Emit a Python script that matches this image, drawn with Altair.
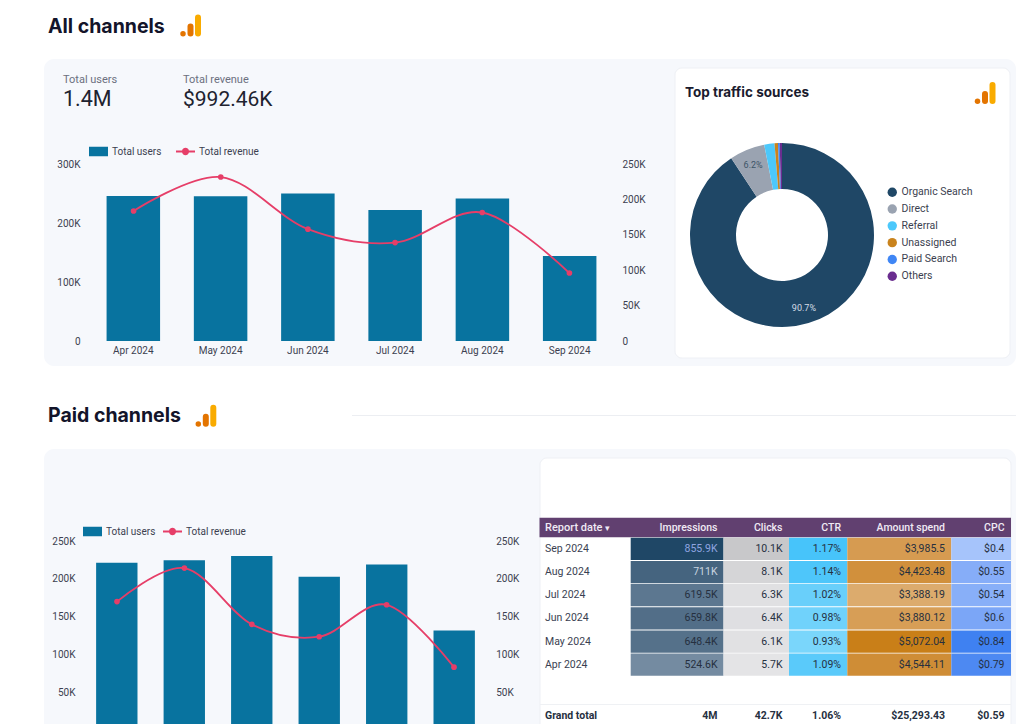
import altair as alt
import pandas as pd

MONTHS = ["Apr 2024", "May 2024", "Jun 2024", "Jul 2024", "Aug 2024", "Sep 2024"]
ALL_USERS = [245800, 245500, 250000, 222000, 241500, 144000]
ALL_REVENUE = [183600, 231600, 158000, 139000, 181500, 96000]
PAID_USERS = [221500, 224700, 230400, 203000, 219300, 131800]
PAID_REVENUE = [170000, 214500, 139800, 123400, 165800, 83000]

SOURCES = ["Organic Search", "Direct", "Referral", "Unassigned", "Paid Search", "Others"]
SHARES = [90.7, 6.2, 1.8, 0.6, 0.3, 0.4]
SHARE_LABELS = ["90.7%", "6.2%", "", "", "", ""]
SOURCE_COLORS = ["#1f4766", "#9aa3b1", "#4cc8fb", "#c9831d", "#3f86f5", "#6a2d8f"]

ROWS = ["Sep 2024", "Aug 2024", "Jul 2024", "Jun 2024", "May 2024", "Apr 2024"]
IMPRESSIONS = [855.9, 711.0, 619.5, 659.8, 648.4, 524.6]
IMPRESSIONS_TXT = ["855.9K", "711K", "619.5K", "659.8K", "648.4K", "524.6K"]
CLICKS = [10.1, 8.1, 6.3, 6.4, 6.1, 5.7]
CLICKS_TXT = ["10.1K", "8.1K", "6.3K", "6.4K", "6.1K", "5.7K"]
CTR = [1.17, 1.14, 1.02, 0.98, 0.93, 1.09]
CTR_TXT = ["1.17%", "1.14%", "1.02%", "0.98%", "0.93%", "1.09%"]
SPEND = [3985.5, 4423.48, 3388.19, 3880.12, 5072.04, 4544.11]
SPEND_TXT = ["$3,985.5", "$4,423.48", "$3,388.19", "$3,880.12", "$5,072.04", "$4,544.11"]
CPC = [0.4, 0.55, 0.54, 0.6, 0.84, 0.79]
CPC_TXT = ["$0.4", "$0.55", "$0.54", "$0.6", "$0.84", "$0.79"]
TOTALS = ["4M", "42.7K", "1.06%", "$25,293.43", "$0.59"]
HEADERS = ["Impressions", "Clicks", "CTR", "Amount spend", "CPC"]

W, H = 1008, 716
OFF = 8
BLUE, RED = "#08739f", "#e63e68"
TICK = "#3c3f50"
FONT = "Roboto"
one = alt.Data(values=[{"a": 1}])
layers = []


def X(v):
    return alt.value(v - OFF)


def box(x0, y0, x1, y1, fill, radius=0, stroke=None):
    kw = {"stroke": stroke, "strokeWidth": 1} if stroke else {}
    layers.append(
        alt.Chart(one)
        .mark_rect(fill=fill, cornerRadius=radius, **kw)
        .encode(x=X(x0), x2=X(x1), y=X(y0), y2=X(y1))
    )


def label(s, x, y, size=11, color="#2b2d3a", weight=400, align="left", font=FONT):
    layers.append(
        alt.Chart(one)
        .mark_text(font=font, fontSize=size, color=color, fontWeight=weight, align=align, baseline="middle")
        .encode(x=X(x), y=X(y), text=alt.value(s))
    )


def logo(x0, bottom):
    layers.append(alt.Chart(one).mark_point(filled=True, size=30, color="#e37400", opacity=1)
                  .encode(x=X(x0), y=X(bottom - 2.8)))
    for dx, h, c in ((7.5, 13, "#e37400"), (15, 22, "#f9ab00")):
        layers.append(alt.Chart(one).mark_rule(strokeWidth=6, strokeCap="round", color=c)
                      .encode(x=X(x0 + dx), y=X(bottom - h + 3), y2=X(bottom - 3)))


def combo(users, revenue, x_range, y_zero, y_top, left_max, left_ticks, right_ticks, right_max,
          lx, rx, leg_x, leg_y, leg_gap, show_x):
    df = pd.DataFrame({"month": MONTHS, "users": users, "revenue": revenue,
                       "u": ["Total users"] * 6, "r": ["Total revenue"] * 6})
    xs = alt.Scale(domain=MONTHS, range=[x_range[0] - OFF, x_range[1] - OFF], paddingInner=0.387, paddingOuter=0.19)
    ys_l = alt.Scale(domain=[0, left_max], range=[y_zero - OFF, y_top - OFF], nice=False)
    ys_r = alt.Scale(domain=[0, right_max], range=[y_zero - OFF, y_top - OFF], nice=False)
    fmt = "datum.value === 0 ? '0' : (datum.value / 1000) + 'K'"
    common = dict(title=None, grid=False, domain=False, ticks=False, labelFont=FONT, labelFontSize=10,
                  labelColor=TICK, labelExpr=fmt, zindex=1)
    x_axis = (alt.Axis(orient="bottom", offset=y_zero - OFF - H, title=None, grid=False, domain=False, ticks=False,
                       labelFont=FONT, labelFontSize=10, labelColor=TICK, labelPadding=4, labelAngle=0, zindex=1)
              if show_x else None)
    rect_path = "M-1,-0.5H1V0.5H-1Z"
    line_path = ("M-1,-0.1H-0.36A0.37,0.37 0 0 1 0.36,-0.1H1V0.1H0.36A0.37,0.37 0 0 1 -0.36,0.1H-1Z")
    leg = dict(title=None, orient="none", labelFont=FONT, labelFontSize=10, labelColor=TICK, padding=0,
               symbolSize=361, symbolStrokeWidth=0, labelOffset=4)
    layers.append(
        alt.Chart(df).mark_bar(clip=False).encode(
            x=alt.X("month:N", scale=xs, sort=None, axis=x_axis),
            y=alt.Y("users:Q", scale=ys_l,
                    axis=alt.Axis(orient="left", offset=-(lx - OFF), values=left_ticks, labelPadding=0, **common)),
            color=alt.Color("u:N", scale=alt.Scale(domain=["Total users"], range=[BLUE]),
                            legend=alt.Legend(legendX=leg_x - OFF, legendY=leg_y - OFF, symbolType=rect_path,
                                              symbolFillColor=BLUE, **leg)),
        )
    )
    layers.append(
        alt.Chart(df).mark_line(interpolate="cardinal", strokeWidth=1.8).encode(
            x=alt.X("month:N", scale=xs, sort=None, axis=None),
            y=alt.Y("revenue:Q", scale=ys_r,
                    axis=alt.Axis(orient="right", offset=rx - OFF - W, values=right_ticks, labelPadding=0, **common)),
            color=alt.Color("r:N", scale=alt.Scale(domain=["Total revenue"], range=[RED]),
                            legend=alt.Legend(legendX=leg_x + leg_gap - OFF, legendY=leg_y - OFF, symbolType=line_path,
                                              symbolFillColor=RED, **leg)),
        )
    )
    layers.append(
        alt.Chart(df).mark_point(filled=True, size=32, color=RED, opacity=1).encode(
            x=alt.X("month:N", scale=xs, sort=None, axis=None),
            y=alt.Y("revenue:Q", scale=ys_r, axis=None),
        )
    )


# ---- page frame
box(44, 59, 1016, 366, "#f6f8fc", 10)
box(44, 449, 1016, 740, "#f6f8fc", 10)
box(675, 68, 1010, 358, "#ffffff", 7, "#eef0f5")
box(540, 458, 1011, 740, "#ffffff", 7, "#eef0f5")
box(352, 415, 1016, 416, "#eceef2")

label("All channels", 48, 26.5, 19.5, "#13142a", 700, font="Inter")
label("Paid channels", 48, 416, 19.5, "#13142a", 700, font="Inter")
label("Top traffic sources", 685, 92.5, 13.5, "#1a1b2e", 700, font="Inter")
logo(183, 36.5)
logo(977.5, 104)
logo(198.3, 426.7)

label("Total users", 63, 80, 11, "#6c7080")
label("1.4M", 63, 99.5, 21.5, "#20222f")
label("Total revenue", 183, 80, 11, "#6c7080")
label("$992.46K", 183, 99.5, 21, "#20222f")

# ---- combo charts
combo(ALL_USERS, ALL_REVENUE, (90, 613), 341, 164, 300000, [0, 100000, 200000, 300000],
      [0, 50000, 100000, 150000, 200000, 250000], 250000, 80, 622, 89, 142, 87, True)
combo(PAID_USERS, PAID_REVENUE, (83.3, 487.7), 729.7, 541.3, 250000, [50000, 100000, 150000, 200000, 250000],
      [50000, 100000, 150000, 200000, 250000], 250000, 75, 495.7, 83, 522, 80, False)

# ---- donut
donut = pd.DataFrame({"source": SOURCES, "share": SHARES, "tag": SHARE_LABELS, "rank": list(range(6))})
theta = alt.Theta("share:Q", stack=True)
layers.append(
    alt.Chart(donut).mark_arc(outerRadius=92, innerRadius=46).encode(
        x=X(782), y=X(235), theta=theta, order=alt.Order("rank:Q"),
        color=alt.Color("source:N", sort=SOURCES, scale=alt.Scale(domain=SOURCES, range=SOURCE_COLORS),
                        legend=alt.Legend(title=None, orient="none", legendX=879, legendY=179, symbolType="circle",
                                          symbolSize=88, labelFont=FONT, labelFontSize=10.5, labelColor=TICK,
                                          rowPadding=5.8, padding=0, labelOffset=4, symbolStrokeWidth=0)),
    )
)
layers.append(
    alt.Chart(donut).mark_text(radius=76, font=FONT, fontSize=9).encode(
        x=X(782), y=X(235), theta=theta, order=alt.Order("rank:Q"), detail="source:N", text="tag:N",
        color=alt.Color("share:Q", legend=None,
                        scale=alt.Scale(type="threshold", domain=[50], range=["#3d5568", "#d4dde6"])),
    )
)

# ---- table
box(539.5, 517.7, 1011, 537.3, "#614070")
label("Report date", 545, 527.5, 11, "#f0eaf4", 500)
label("▾", 605, 527.5, 9, "#f0eaf4", 500)
rows = pd.DataFrame({
    "row": ROWS,
    "v0": IMPRESSIONS, "t0": IMPRESSIONS_TXT,
    "v1": CLICKS, "t1": CLICKS_TXT,
    "v2": CTR, "t2": CTR_TXT,
    "v3": SPEND, "t3": SPEND_TXT,
    "v4": CPC, "t4": CPC_TXT,
})
row_y = alt.Y("row:N", sort=None, axis=None,
              scale=alt.Scale(domain=ROWS, range=[537.3 - OFF, 676.3 - OFF], paddingInner=0.04, paddingOuter=0.02))
edges = [630.7, 723.5, 789, 847.3, 951.3, 1011]
rights = [717.5, 782.5, 841, 945, 1004.5]
ramps = [
    ([524.6, 855.9], ["#748ba1", "#1f4766"]),
    ([5.7, 10.1], ["#e4e4e6", "#c8c8ca"]),
    ([0.93, 1.17], ["#7ad6fb", "#47c4fa"]),
    ([3388.19, 5072.04], ["#dcab6d", "#c97f18"]),
    ([0.4, 0.84], ["#a6c4fb", "#3f81f1"]),
]
for i in range(5):
    dom, rng = ramps[i]
    layers.append(
        alt.Chart(rows).mark_rect().encode(
            x=X(edges[i]), x2=X(edges[i + 1]), y=row_y,
            color=alt.Color(f"v{i}:Q", legend=None, scale=alt.Scale(domain=dom, range=rng)),
        )
    )
for i in range(5):
    if i == 0:
        col = alt.Color("v0:Q", legend=None,
                        scale=alt.Scale(type="threshold", domain=[700, 800], range=["#26303f", "#c8d4e0", "#8fa5e0"]))
    else:
        col = alt.value("#26303f")
    layers.append(
        alt.Chart(rows).mark_text(font=FONT, fontSize=10.5, align="right", baseline="middle").encode(
            x=X(rights[i]), y=row_y, text=f"t{i}:N", color=col,
        )
    )
    label(HEADERS[i], rights[i], 527.5, 10.5, "#f0eaf4", 500, "right")
    label(TOTALS[i], rights[i], 715.5, 10.5, "#26303f", 700, "right")
layers.append(
    alt.Chart(rows).mark_text(font=FONT, fontSize=10.5, align="left", baseline="middle", color="#3a3f52").encode(
        x=X(545), y=row_y, text="row:N",
    )
)
box(540, 704, 1011, 705, "#eff1f4")
label("Grand total", 545, 715.5, 10.5, "#26303f", 700)

chart = (
    alt.layer(*layers)
    .resolve_scale(x="independent", y="independent", color="independent", theta="independent")
    .resolve_axis(x="independent", y="independent")
    .resolve_legend(color="independent")
    .properties(width=W, height=H, background="#ffffff", padding=0,
                autosize=alt.AutoSizeParams(type="none"))
    .configure_view(stroke=None)
)
chart.save("out.html", embed_options={"renderer": "svg", "actions": False})
